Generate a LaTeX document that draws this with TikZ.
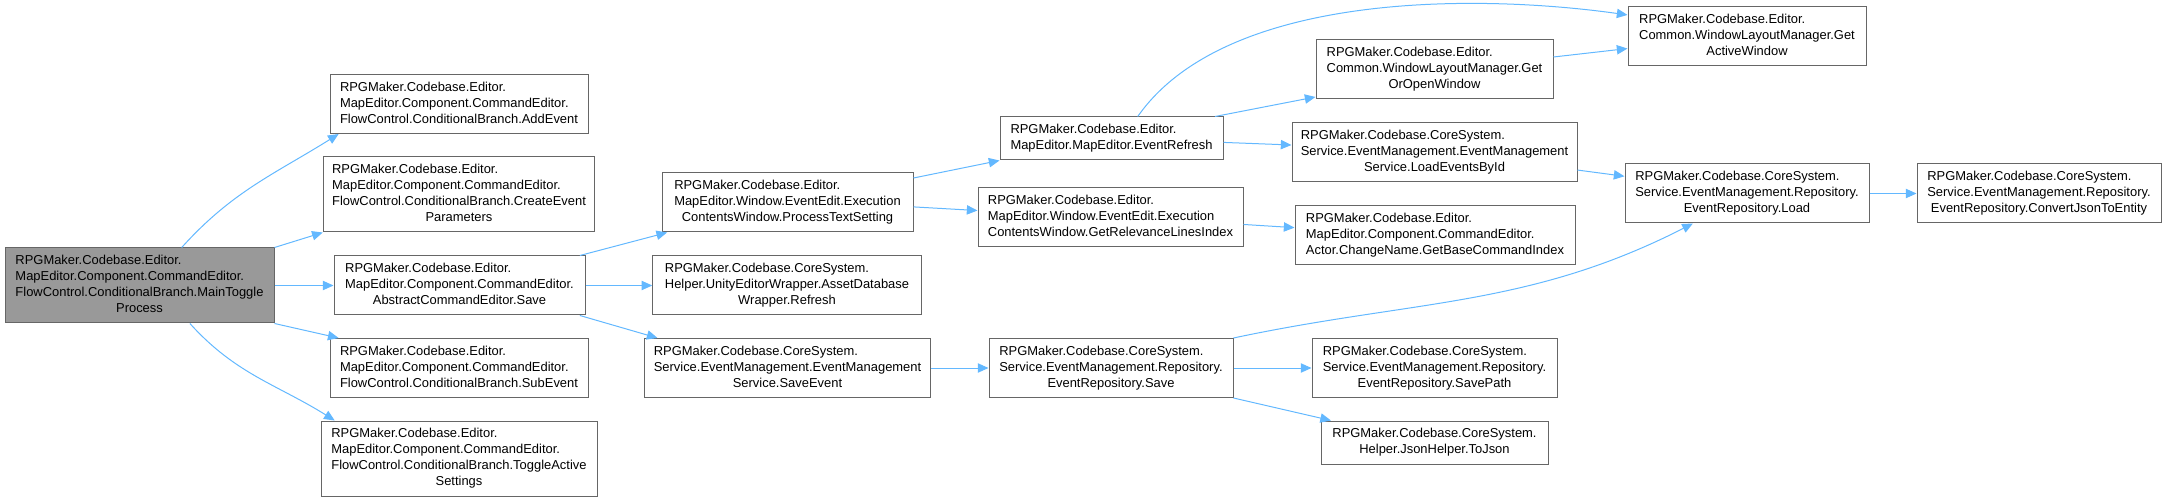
\documentclass[tikz,border=0pt]{standalone}
\usepackage{fontspec}
\setmainfont{Liberation Sans}
\usepackage{tikz}
\usetikzlibrary{arrows.meta,positioning}
\definecolor{callblue}{HTML}{63B8FF}
\definecolor{boxgray}{HTML}{666666}
\definecolor{mainfill}{HTML}{999999}
\newcommand{\fnlabel}[2]{\begin{tabular}{@{}l@{}}#1\\\multicolumn{1}{@{}c@{}}{#2}\end{tabular}}

\begin{document}
\begin{tikzpicture}[x=0.75pt,y=-0.75pt,>={Triangle[length=8pt,width=7pt]},
	fn/.style={draw=boxgray,fill=white,line width=0.75pt,rectangle,inner xsep=0pt,inner ysep=4.125pt,minimum width=#1*0.75pt,font=\fontsize{9.7}{12}\selectfont},
	mainfn/.style={fn=#1,fill=mainfill},
	call/.style={every edge/.style={draw=callblue,line width=0.75pt,->}}]
	\useasboundingbox (0,0) rectangle (2167,502);

	\node[mainfn=269]	(main)		at (139.5,285.5)	{\fnlabel{RPGMaker.Codebase.Editor.\\MapEditor.Component.CommandEditor.\\FlowControl.ConditionalBranch.MainToggle}{Process}};

	\node[fn=258]		(addevent)		at (459,104)		{\fnlabel{RPGMaker.Codebase.Editor.\\MapEditor.Component.CommandEditor.}{FlowControl.ConditionalBranch.AddEvent}};
	\node[fn=271.5]	(createevent)	at (459,194.5)		{\fnlabel{RPGMaker.Codebase.Editor.\\MapEditor.Component.CommandEditor.\\FlowControl.ConditionalBranch.CreateEvent}{Parameters}};
	\node[fn=251]		(abstractsave)	at (459.5,285.5)	{\fnlabel{RPGMaker.Codebase.Editor.\\MapEditor.Component.CommandEditor.}{AbstractCommandEditor.Save}};
	\node[fn=258]		(subevent)		at (459,368)		{\fnlabel{RPGMaker.Codebase.Editor.\\MapEditor.Component.CommandEditor.}{FlowControl.ConditionalBranch.SubEvent}};
	\node[fn=276]		(toggleactive)	at (459,458.5)		{\fnlabel{RPGMaker.Codebase.Editor.\\MapEditor.Component.CommandEditor.\\FlowControl.ConditionalBranch.ToggleActive}{Settings}};

	\node[fn=251]		(processtext)	at (787.5,202.5)	{\fnlabel{RPGMaker.Codebase.Editor.\\MapEditor.Window.EventEdit.Execution}{ContentsWindow.ProcessTextSetting}};
	\node[fn=268.5]	(assetrefresh)	at (787,285.5)		{\fnlabel{RPGMaker.Codebase.CoreSystem.\\Helper.UnityEditorWrapper.AssetDatabase}{Wrapper.Refresh}};
	\node[fn=285.5]	(saveevent)		at (787.5,368)		{\fnlabel{RPGMaker.Codebase.CoreSystem.\\Service.EventManagement.EventManagement}{Service.SaveEvent}};

	\node[fn=223]		(eventrefresh)	at (1111.5,138.5)	{\fnlabel{RPGMaker.Codebase.Editor.}{MapEditor.MapEditor.EventRefresh}};
	\node[fn=265]		(getrelevance)	at (1110.5,217.5)	{\fnlabel{RPGMaker.Codebase.Editor.\\MapEditor.Window.EventEdit.Execution}{ContentsWindow.GetRelevanceLinesIndex}};
	\node[fn=244]		(reposave)		at (1111,368)		{\fnlabel{RPGMaker.Codebase.CoreSystem.\\Service.EventManagement.Repository.}{EventRepository.Save}};

	\node[fn=237]		(getoropen)		at (1434.5,69.5)	{\fnlabel{RPGMaker.Codebase.Editor.\\Common.WindowLayoutManager.Get}{OrOpenWindow}};
	\node[fn=285]		(loadevents)	at (1434.5,152.5)	{\fnlabel{RPGMaker.Codebase.CoreSystem.\\Service.EventManagement.EventManagement}{Service.LoadEventsById}};
	\node[fn=280]		(basecmdindex)	at (1435,235)		{\fnlabel{RPGMaker.Codebase.Editor.\\MapEditor.Component.CommandEditor.}{Actor.ChangeName.GetBaseCommandIndex}};
	\node[fn=245]		(savepath)		at (1434.5,368)		{\fnlabel{RPGMaker.Codebase.CoreSystem.\\Service.EventManagement.Repository.}{EventRepository.SavePath}};
	\node[fn=227]		(tojson)		at (1434.5,442.5)	{\fnlabel{RPGMaker.Codebase.CoreSystem.}{Helper.JsonHelper.ToJson}};

	\node[fn=238]		(activewindow)	at (1747,36)		{\fnlabel{RPGMaker.Codebase.Editor.\\Common.WindowLayoutManager.Get}{ActiveWindow}};
	\node[fn=244]		(load)			at (1747,193.5)		{\fnlabel{RPGMaker.Codebase.CoreSystem.\\Service.EventManagement.Repository.}{EventRepository.Load}};
	\node[fn=244]		(convertjson)	at (2039,193.5)		{\fnlabel{RPGMaker.Codebase.CoreSystem.\\Service.EventManagement.Repository.}{EventRepository.ConvertJsonToEntity}};

	\path[call]
		(main.42)				edge	[out=48,in=212]						(addevent.194)
		(main.north east)		edge										(createevent.south west)
		(main)					edge										(abstractsave)
		(main.south east)		edge										(subevent.166)
		(main.-37)				edge	[out=-48,in=148]					(toggleactive.163)
		(abstractsave.14)		edge										(processtext.194)
		(abstractsave)			edge										(assetrefresh)
		(abstractsave.-14)		edge										(saveevent.167)
		(processtext.11)		edge										(eventrefresh.south west)
		(processtext.-2.5)		edge										(getrelevance.177.5)
		(saveevent)				edge										(reposave)
		(eventrefresh.40)		edge	[out=55,in=172,looseness=0.78]		(activewindow.170)
		(eventrefresh.12)		edge										(getoropen.193)
		(eventrefresh.-2.5)		edge										(loadevents.177)
		(getrelevance.-3)		edge										(basecmdindex.177)
		(getoropen.6.5)			edge										(activewindow.186)
		(loadevents.-7.4)		edge										(load.172)
		(load)					edge										(convertjson)
		(reposave.north east)	edge	[out=12,in=207]						(load.209)
		(reposave)				edge										(savepath)
		(reposave.south east)	edge										(tojson.168)
	;
\end{tikzpicture}
\end{document}
